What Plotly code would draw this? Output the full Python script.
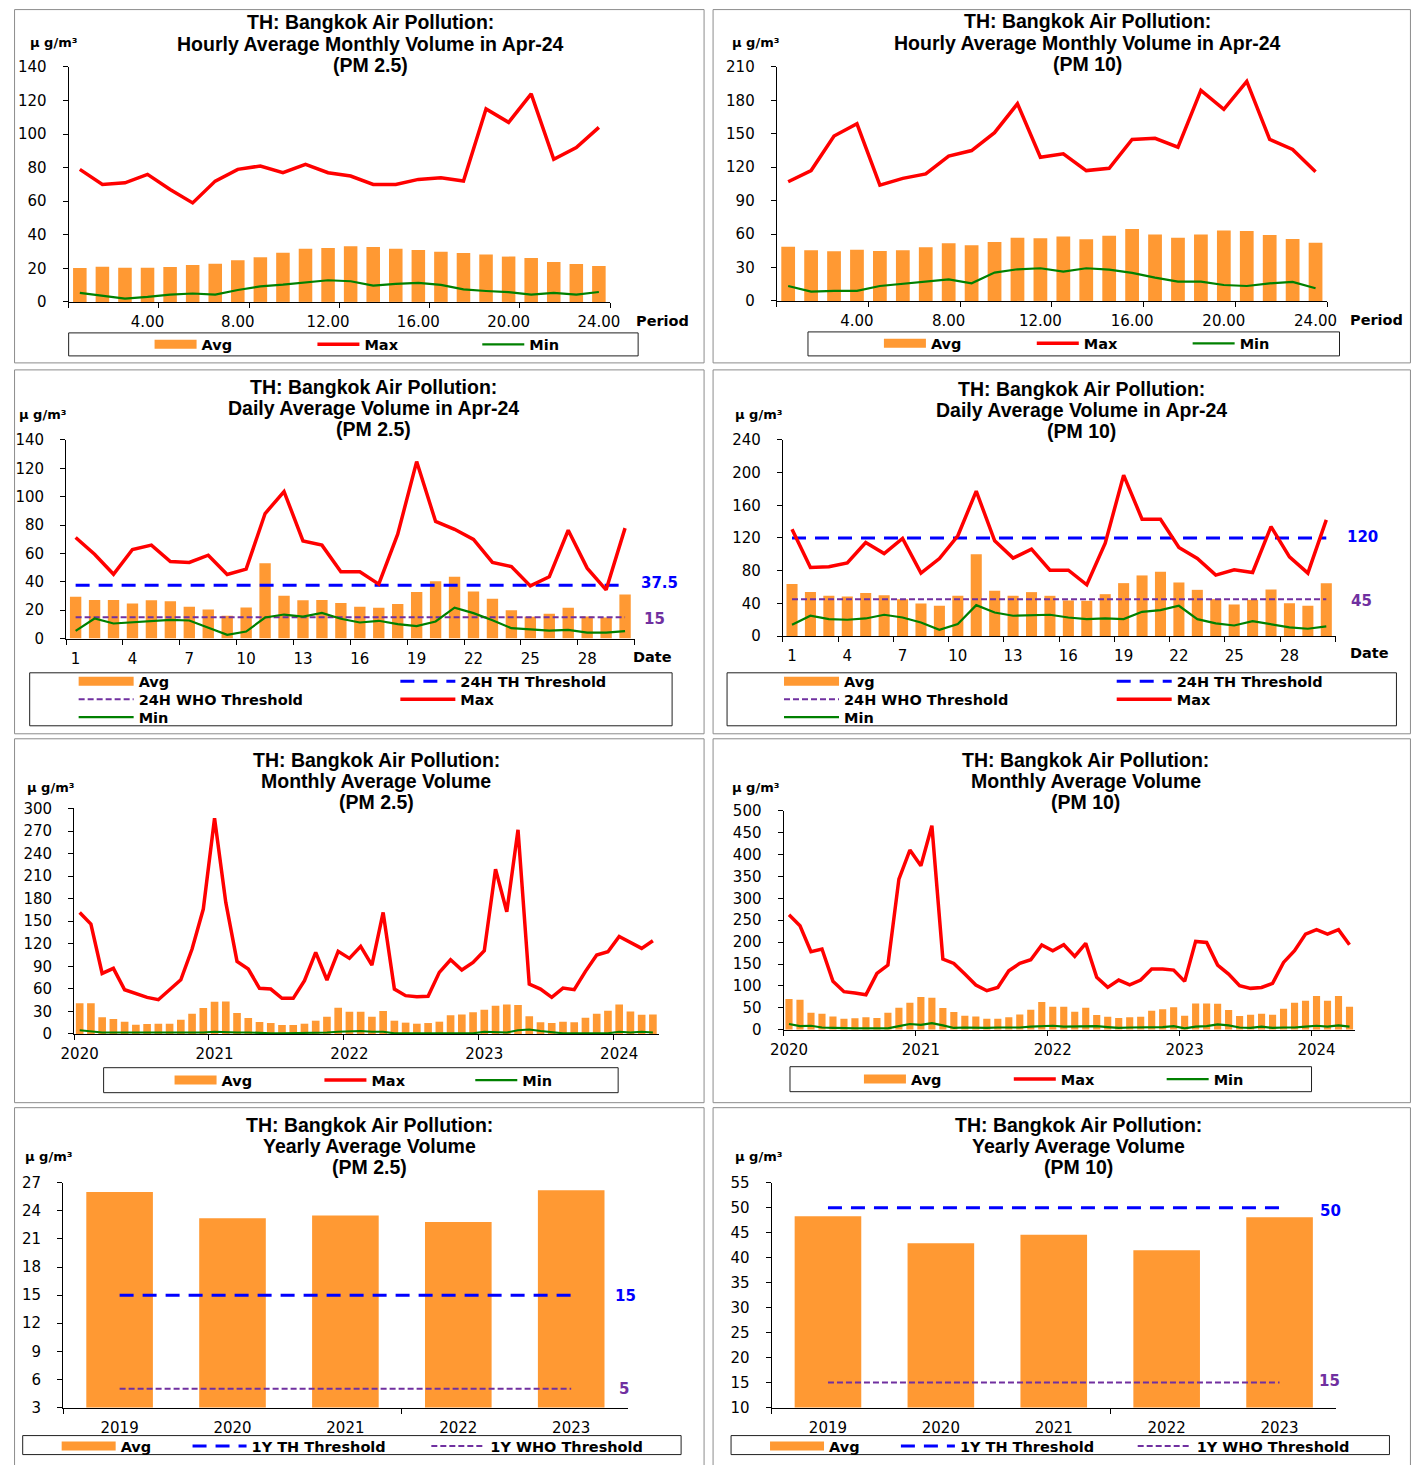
import plotly.graph_objects as go
import pandas as pd

W, H = 1421, 1465
FONT = "Liberation Sans, Arial, Helvetica, sans-serif"
WIDE = "DejaVu Sans, Verdana, sans-serif"
ORANGE = "#FF9933"
RED = "#FF0000"
GREEN = "#008000"
BLUE = "#0000FF"
PURPLE = "#7030A0"

# ------------------------------------------------------------------ data
hours = list(range(1, 25))
hour_tickvals = [4, 8, 12, 16, 20, 24]
hour_ticktext = ["4.00", "8.00", "12.00", "16.00", "20.00", "24.00"]
hour_bounds = [0.5, 4.5, 8.5, 12.5, 16.5, 20.5, 24.5]

pm25_hourly_avg = [20.2, 21.0, 20.4, 20.4, 20.8, 22.0, 22.8, 24.8, 26.6, 29.3, 31.7, 32.1,
                   33.1, 32.7, 31.7, 30.9, 29.9, 29.1, 28.2, 27.0, 26.2, 23.8, 22.6, 21.4]
pm25_hourly_max = [79, 70, 71, 76, 67, 59, 72, 79, 81, 77, 82, 77,
                   75, 70, 70, 73, 74, 72, 115, 107, 124, 85, 92, 104]
pm25_hourly_min = [5.4, 3.6, 2.0, 3.0, 4.4, 5.0, 4.4, 7.1, 9.3, 10.3, 11.5, 12.9,
                   12.3, 9.7, 10.7, 11.3, 10.1, 7.5, 6.5, 5.8, 4.4, 5.4, 4.4, 5.9]

pm10_hourly_avg = [48.7, 45.4, 44.5, 46.0, 44.8, 45.4, 48.1, 51.7, 49.9, 52.9, 56.7, 56.2,
                   57.9, 55.3, 58.5, 64.5, 59.7, 56.7, 59.7, 63.3, 62.7, 59.1, 55.6, 52.3]
pm10_hourly_max = [107, 117, 148, 159, 104, 110, 114, 130, 135, 151, 177, 129,
                   132, 117, 119, 145, 146, 138, 189, 172, 197, 145, 136, 116]
pm10_hourly_min = [13.4, 8.4, 9.0, 9.0, 13.4, 15.2, 17.3, 19.4, 15.8, 25.4, 28.4, 29.3,
                   26.3, 29.3, 28.1, 25.1, 20.9, 17.3, 17.3, 14.3, 13.4, 15.8, 17.0, 11.4]

days = list(range(1, 31))
day_tickvals = [1, 4, 7, 10, 13, 16, 19, 22, 25, 28]
day_ticktext = [str(d) for d in day_tickvals]
day_bounds = [0.5, 3.5, 6.5, 9.5, 12.5, 15.5, 18.5, 21.5, 24.5, 27.5, 30.5]

pm25_daily_avg = [29.4, 27.2, 27.2, 24.7, 27.0, 26.3, 22.3, 20.4, 16.0, 21.8, 53.1, 30.1,
                  27.0, 27.2, 25.1, 22.3, 21.6, 24.4, 32.7, 40.4, 43.5, 33.1, 28.0, 20.0,
                  15.3, 17.4, 21.6, 15.5, 14.8, 31.0]
pm25_daily_max = [71.2, 59.4, 45.3, 62.7, 65.8, 54.3, 53.6, 58.7, 45.1, 48.9, 88.1, 103.6,
                  68.8, 65.8, 47.0, 47.0, 38.3, 73.5, 124.7, 82.5, 77.0, 69.8, 53.6, 50.7,
                  37.1, 43.5, 76.3, 49.6, 34.3, 77.8]
pm25_daily_min = [5.4, 14.1, 10.6, 11.3, 12.0, 13.2, 12.7, 7.5, 2.6, 4.9, 14.8, 16.9,
                  15.5, 18.1, 13.9, 11.3, 12.5, 10.1, 8.7, 12.0, 21.8, 17.9, 12.9, 7.3,
                  6.3, 5.6, 6.1, 4.2, 4.2, 5.2]

pm10_daily_avg = [63.6, 53.8, 49.3, 48.5, 52.6, 50.1, 45.2, 39.9, 37.1, 49.3, 100.2, 55.4,
                  49.3, 53.8, 49.3, 43.6, 43.2, 51.3, 64.8, 74.2, 78.6, 65.6, 56.6, 45.2,
                  38.7, 44.4, 57.0, 40.3, 37.1, 64.8]
pm10_daily_max = [130.8, 83.9, 84.8, 89.6, 114.5, 101.0, 119.4, 77.0, 94.9, 122.7, 177.3, 116.5,
                  95.4, 106.4, 80.7, 80.7, 62.8, 113.7, 196.8, 143.0, 143.0, 108.4, 94.9, 74.6,
                  81.1, 77.8, 134.0, 97.0, 77.0, 142.2]
pm10_daily_min = [13.9, 24.9, 20.8, 20.0, 21.6, 26.1, 22.8, 16.7, 7.7, 14.7, 37.9, 28.9,
                  24.9, 25.7, 26.1, 22.8, 20.8, 21.6, 20.8, 29.7, 31.8, 37.1, 20.8, 15.5,
                  13.0, 18.3, 14.7, 10.6, 9.0, 11.8]

months = pd.date_range("2020-01-01", "2024-04-01", freq="MS").strftime("%b-%Y").tolist()
month_pos = list(range(len(months)))
year_tickpos = [0, 12, 24, 36, 48]
year_ticktext = ["2020", "2021", "2022", "2023", "2024"]
year_bounds = [-0.5, 11.5, 23.5, 35.5, 47.5]

pm25_monthly_avg = [40.8, 40.8, 22.2, 19.9, 16.4, 12.4, 13.3, 13.7, 13.7, 19.0, 27.0, 34.6,
                    43.0, 43.4, 27.9, 21.3, 16.0, 14.6, 12.0, 12.0, 13.7, 17.7, 23.0, 35.0,
                    29.7, 29.7, 23.0, 30.6, 17.7, 15.1, 13.7, 14.6, 16.4, 24.8, 26.1, 28.8,
                    32.3, 37.7, 39.4, 38.5, 23.5, 15.5, 14.6, 16.4, 15.5, 21.7, 27.0, 31.0,
                    39.4, 30.1, 25.7, 26.1]
pm25_monthly_max = [161.7, 146.2, 80.6, 87.3, 58.9, 53.2, 48.7, 45.6, 58.9, 72.2, 113.0, 166.2,
                    287.1, 175.0, 96.6, 86.4, 60.7, 59.8, 47.4, 47.4, 70.9, 108.6, 71.8, 109.9,
                    100.6, 116.5, 91.7, 161.7, 59.8, 51.0, 49.6, 50.1, 82.0, 98.8, 85.1, 95.3,
                    110.8, 219.3, 162.6, 271.6, 66.5, 59.8, 48.7, 61.1, 58.9, 83.3, 105.0, 109.4,
                    129.8, 121.8, 113.9, 124.0]
pm25_monthly_min = [5, 3, 2, 2, 2, 1, 1, 1, 1, 1, 1, 2,
                    3, 2, 2, 2, 1, 1, 1, 1, 1, 2, 2, 3,
                    4, 4, 3, 3, 1, 1, 1, 1, 1, 1, 1, 1,
                    3, 2, 2, 5, 6, 4, 2, 1, 1, 1, 1, 1,
                    3, 2, 3, 2]

pm10_monthly_avg = [70.0, 68.5, 38.8, 36.5, 30.4, 25.1, 25.9, 28.2, 26.6, 38.8, 50.2, 61.6,
                    74.6, 73.1, 49.5, 40.3, 32.0, 30.4, 25.1, 25.1, 28.2, 35.0, 45.7, 63.2,
                    52.5, 52.5, 41.1, 50.2, 33.5, 29.7, 26.6, 28.2, 29.7, 43.4, 46.5, 51.0,
                    32.0, 60.1, 60.1, 59.4, 44.9, 31.2, 34.2, 36.5, 34.2, 47.9, 61.6, 66.2,
                    76.9, 66.2, 76.9, 52.5]
pm10_monthly_max = [262.6, 237.4, 178.1, 184.2, 110.4, 86.8, 83.7, 79.9, 128.6, 147.6, 344.0, 410.2,
                    374.4, 465.8, 161.3, 151.4, 127.1, 102.0, 89.0, 96.6, 134.7, 151.4, 159.8, 193.3,
                    180.4, 194.1, 167.4, 197.1, 119.5, 96.6, 113.4, 102.7, 113.4, 138.5, 138.5, 136.2,
                    110.4, 201.7, 199.4, 147.6, 127.1, 100.5, 94.4, 96.6, 105.8, 153.7, 180.4, 218.4,
                    228.3, 218.4, 228.3, 194.1]
pm10_monthly_min = [13, 8, 9, 5, 4, 3, 3, 3, 3, 3, 8, 13,
                    11, 15, 10, 4, 5, 4, 4, 5, 5, 5, 7, 8,
                    9, 7, 7, 8, 8, 6, 4, 5, 5, 5, 6, 8,
                    3, 7, 8, 12, 10, 5, 4, 7, 4, 5, 5, 7,
                    9, 7, 10, 7]

years = [2019, 2020, 2021, 2022, 2023]
year_ticks = ["2019", "2020", "2021", "2022", "2023"]
pm25_yearly_avg = [26.0, 23.2, 23.5, 22.8, 26.2]
pm10_yearly_avg = [48.3, 42.9, 44.6, 41.5, 48.1]

TH_24H_PM25, WHO_24H_PM25 = 37.5, 15
TH_24H_PM10, WHO_24H_PM10 = 120, 45
TH_1Y_PM25, WHO_1Y_PM25 = 15, 5
TH_1Y_PM10, WHO_1Y_PM10 = 50, 15

# ------------------------------------------------------------------ placement helpers
# positions below are given in screenshot pixels; the page is shown slightly
# inset/scaled, so they are mapped back to figure pixels here.
AX, SX, AY, SY = 13.3, 0.984, 8.0, 0.988


def fx(p):
    return ((p - AX) / SX) / W


def fy(p):
    return 1 - ((p - AY) / SY) / H


def clamp(v):
    return min(max(v, 0.0004), 0.9996)


fig = go.Figure()
annotations = []
shapes = []
legend_layouts = {}


def ax_names(n):
    if n == 1:
        return "xaxis", "yaxis", "x", "y"
    return f"xaxis{n}", f"yaxis{n}", f"x{n}", f"y{n}"


def set_axes(n, left, right, top, bottom, xr, tickvals, ticktext, minor_vals, yr, dtick):
    xk, yk, xa, ya = ax_names(n)
    fig.update_layout(**{
        xk: dict(domain=[fx(left), fx(right)], range=xr, anchor=ya,
                 showline=True, linecolor="black", linewidth=1, showgrid=False,
                 zeroline=False, ticks="", tickmode="array", tickvals=tickvals,
                 ticktext=ticktext, ticklabelstandoff=6,
                 tickfont=dict(family=WIDE, size=15, color="black"),
                 minor=dict(tickmode="array", tickvals=minor_vals, ticks="outside",
                            ticklen=5, tickcolor="black", tickwidth=1, showgrid=False),
                 fixedrange=True),
        yk: dict(domain=[fy(bottom), fy(top)], range=yr, anchor=xa,
                 showline=True, linecolor="black", linewidth=1, showgrid=False,
                 zeroline=False, ticks="outside", ticklen=5, tickcolor="black",
                 tickmode="linear", tick0=yr[0], dtick=dtick, ticklabelstandoff=13,
                 tickfont=dict(family=WIDE, size=15, color="black"),
                 fixedrange=True),
    })


def new_legend(xs, yc, itemwidth):
    idx = len(legend_layouts) + 1
    key = "legend" if idx == 1 else f"legend{idx}"
    legend_layouts[key] = dict(
        x=fx(xs - 6), y=fy(yc - 15.5), xanchor="left", yanchor="top",
        orientation="h", bgcolor="rgba(0,0,0,0)", borderwidth=0,
        itemwidth=itemwidth,
        font=dict(family=WIDE, size=14.5, color="black", weight="bold"))
    return key


def text(x, y, s, size=15, color="black", family=WIDE):
    annotations.append(dict(x=fx(x), y=fy(y), xref="paper", yref="paper", text=s,
                            showarrow=False, xanchor="center", yanchor="middle",
                            font=dict(family=family, size=size, color=color, weight="bold")))


def rect(l, t, r, b, color, width=1, clip_bottom=True):
    y0 = clamp(fy(b)) if clip_bottom else fy(b)
    shapes.append(dict(type="rect", xref="paper", yref="paper",
                       x0=clamp(fx(l)), x1=clamp(fx(r)),
                       y0=y0, y1=clamp(fy(t)), line=dict(color=color, width=width),
                       fillcolor="rgba(0,0,0,0)", layer="below"))


def avg_traces(n, x, y, barw, leg, custom=None):
    _, _, xa, ya = ax_names(n)
    g = f"avg{n}"
    fig.add_trace(go.Bar(x=x, y=y, width=barw, marker=dict(color=ORANGE, line=dict(width=0)),
                         name="Avg", legendgroup=g, showlegend=False, xaxis=xa, yaxis=ya,
                         customdata=custom))
    fig.add_trace(go.Scatter(x=[None], y=[None], mode="lines", name="Avg",
                             line=dict(color=ORANGE, width=9), legendgroup=g,
                             legend=leg, xaxis=xa, yaxis=ya, hoverinfo="skip"))


def line_trace(n, x, y, name, color, width, leg, dash="solid"):
    _, _, xa, ya = ax_names(n)
    fig.add_trace(go.Scatter(x=x, y=y, mode="lines", name=name,
                             line=dict(color=color, width=width, dash=dash),
                             legend=leg, xaxis=xa, yaxis=ya))


def title(cx, ys, lines):
    for yy, s in zip(ys, lines):
        text(cx, yy, s, size=19.5, family=FONT)


# ------------------------------------------------------------------ panel borders
for (l, t, r, b) in [(4, 1, 704, 362), (713, 1, 1412, 362),
                     (4, 369, 704, 733), (713, 369, 1412, 733),
                     (4, 738, 704, 1102), (713, 738, 1412, 1102)]:
    rect(l, t, r, b, "#8C8C8C")
for (l, t, r, b) in [(4, 1107, 704, 1480), (713, 1107, 1412, 1480)]:
    rect(l, t, r, b, "#8C8C8C", clip_bottom=False)

UNIT = "µ g/m³"
TH_DASH = "14px,9px"
WHO_DASH = "6px,3px"

# ------------------------------------------------------------------ panel 1: hourly PM2.5
set_axes(1, 67.9, 610, 66, 301, [0.5, 24.5], hour_tickvals, hour_ticktext, hour_bounds, [0, 140], 20)
title(370, [21.5, 43.5, 64.5], ["TH: Bangkok Air Pollution:", "Hourly Average Monthly Volume in Apr-24", "(PM 2.5)"])
text(53, 42, UNIT, size=13)
text(662, 320, "Period", size=14.5)
rect(68, 332, 638, 355, "#202020")
avg_traces(1, hours, pm25_hourly_avg, 0.6, new_legend(155, 343, 42))
line_trace(1, hours, pm25_hourly_max, "Max", RED, 3.5, new_legend(318, 343, 42))
line_trace(1, hours, pm25_hourly_min, "Min", GREEN, 2.2, new_legend(483, 343, 42))

# ------------------------------------------------------------------ panel 2: hourly PM10
set_axes(2, 776.7, 1327.5, 66, 300, [0.5, 24.5], hour_tickvals, hour_ticktext, hour_bounds, [0, 210], 30)
title(1088, [20.5, 42.5, 63], ["TH: Bangkok Air Pollution:", "Hourly Average Monthly Volume in Apr-24", "(PM 10)"])
text(755, 42, UNIT, size=13)
text(1377, 319, "Period", size=14.5)
rect(808, 331, 1340, 355, "#202020")
avg_traces(2, hours, pm10_hourly_avg, 0.6, new_legend(885, 342, 42))
line_trace(2, hours, pm10_hourly_max, "Max", RED, 3.5, new_legend(1038, 342, 42))
line_trace(2, hours, pm10_hourly_min, "Min", GREEN, 2.2, new_legend(1194, 342, 42))

# ------------------------------------------------------------------ panel 3: daily PM2.5
set_axes(3, 65.5, 634.4, 439, 637.7, [0.5, 30.5], day_tickvals, day_ticktext, day_bounds, [0, 140], 20)
title(373, [386.5, 407, 428], ["TH: Bangkok Air Pollution:", "Daily Average Volume in Apr-24", "(PM 2.5)"])
text(42, 414, UNIT, size=13)
text(652, 656.5, "Date", size=14.5)
text(659, 582, "37.5", size=15, color=BLUE)
text(654, 618, "15", size=15, color=PURPLE)
rect(29, 672, 672, 725, "#202020")
avg_traces(3, days, pm25_daily_avg, 0.6, new_legend(79, 680, 55))
line_trace(3, days, [TH_24H_PM25] * len(days), "24H TH Threshold", BLUE, 3,
           new_legend(401, 680, 55), dash=TH_DASH)
line_trace(3, days, [WHO_24H_PM25] * len(days), "24H WHO Threshold", PURPLE, 2,
           new_legend(79, 698, 55), dash=WHO_DASH)
line_trace(3, days, pm25_daily_max, "Max", RED, 3.5, new_legend(401, 698, 55))
line_trace(3, days, pm25_daily_min, "Min", GREEN, 2.2, new_legend(79, 716, 55))

# ------------------------------------------------------------------ panel 4: daily PM10
set_axes(4, 782.8, 1336, 439, 635.3, [0.5, 30.5], day_tickvals, day_ticktext, day_bounds, [0, 240], 40)
title(1082, [388.5, 409, 430], ["TH: Bangkok Air Pollution:", "Daily Average Volume in Apr-24", "(PM 10)"])
text(758, 414, UNIT, size=13)
text(1370, 652, "Date", size=14.5)
text(1363, 536.5, "120", size=15, color=BLUE)
text(1362, 600.5, "45", size=15, color=PURPLE)
rect(727, 672, 1397, 725, "#202020")
avg_traces(4, days, pm10_daily_avg, 0.6, new_legend(785, 680, 55))
line_trace(4, days, [TH_24H_PM10] * len(days), "24H TH Threshold", BLUE, 3,
           new_legend(1118, 680, 55), dash=TH_DASH)
line_trace(4, days, [WHO_24H_PM10] * len(days), "24H WHO Threshold", PURPLE, 2,
           new_legend(785, 698, 55), dash=WHO_DASH)
line_trace(4, days, pm10_daily_max, "Max", RED, 3.5, new_legend(1118, 698, 55))
line_trace(4, days, pm10_daily_min, "Min", GREEN, 2.2, new_legend(785, 716, 55))

# ------------------------------------------------------------------ panel 5: monthly PM2.5
set_axes(5, 73.4, 658.4, 807.7, 1033.3, [-0.5, 51.5], year_tickpos, year_ticktext, year_bounds, [0, 300], 30)
title(376, [759, 780, 801], ["TH: Bangkok Air Pollution:", "Monthly Average Volume", "(PM 2.5)"])
text(50, 787, UNIT, size=13)
rect(103, 1067, 618, 1092, "#202020")
avg_traces(5, month_pos, pm25_monthly_avg, 0.68, new_legend(175, 1079, 42), custom=months)
line_trace(5, month_pos, pm25_monthly_max, "Max", RED, 3.5, new_legend(325, 1079, 42))
line_trace(5, month_pos, pm25_monthly_min, "Min", GREEN, 2.2, new_legend(476, 1079, 42))

# ------------------------------------------------------------------ panel 6: monthly PM10
set_axes(6, 783.5, 1355.5, 810, 1029, [-0.5, 51.5], year_tickpos, year_ticktext, year_bounds, [0, 500], 50)
title(1086, [759, 780, 801], ["TH: Bangkok Air Pollution:", "Monthly Average Volume", "(PM 10)"])
text(755, 787, UNIT, size=13)
rect(790, 1066, 1312, 1091, "#202020")
avg_traces(6, month_pos, pm10_monthly_avg, 0.65, new_legend(865, 1078, 42), custom=months)
line_trace(6, month_pos, pm10_monthly_max, "Max", RED, 3.5, new_legend(1015, 1078, 42))
line_trace(6, month_pos, pm10_monthly_min, "Min", GREEN, 2.2, new_legend(1168, 1078, 42))

# ------------------------------------------------------------------ panel 7: yearly PM2.5
LEG_Y = 1445
set_axes(7, 62.5, 627.5, 1182, 1407, [2018.5, 2023.5], years, year_ticks, [2018.5, 2021.5], [3, 27], 3)
title(369.6, [1124, 1145, 1166], ["TH: Bangkok Air Pollution:", "Yearly Average Volume", "(PM 2.5)"])
text(48, 1156, UNIT, size=13)
text(625, 1295.5, "15", size=15, color=BLUE)
text(624, 1388.5, "5", size=15, color=PURPLE)
rect(22, 1435, 681, 1454, "#202020")
avg_traces(7, years, pm25_yearly_avg, 0.59, new_legend(62, LEG_Y, 54))
line_trace(7, years, [TH_1Y_PM25] * len(years), "1Y TH Threshold", BLUE, 3,
           new_legend(193, LEG_Y, 54), dash=TH_DASH)
line_trace(7, years, [WHO_1Y_PM25] * len(years), "1Y WHO Threshold", PURPLE, 2,
           new_legend(432, LEG_Y, 54), dash=WHO_DASH)

# ------------------------------------------------------------------ panel 8: yearly PM10
set_axes(8, 771.5, 1336.5, 1182, 1407, [2018.5, 2023.5], years, year_ticks, [2018.5, 2021.5], [10, 55], 5)
title(1078.6, [1124, 1145, 1166], ["TH: Bangkok Air Pollution:", "Yearly Average Volume", "(PM 10)"])
text(758, 1156, UNIT, size=13)
text(1330.5, 1210, "50", size=15, color=BLUE)
text(1330, 1380.5, "15", size=15, color=PURPLE)
rect(731, 1435, 1390, 1454, "#202020")
avg_traces(8, years, pm10_yearly_avg, 0.59, new_legend(771, LEG_Y, 54))
line_trace(8, years, [TH_1Y_PM10] * len(years), "1Y TH Threshold", BLUE, 3,
           new_legend(902, LEG_Y, 54), dash=TH_DASH)
line_trace(8, years, [WHO_1Y_PM10] * len(years), "1Y WHO Threshold", PURPLE, 2,
           new_legend(1139, LEG_Y, 54), dash=WHO_DASH)

# ------------------------------------------------------------------ layout
fig.update_layout(
    width=W, height=H, margin=dict(l=0, r=0, t=0, b=0, pad=0),
    paper_bgcolor="white", plot_bgcolor="white",
    font=dict(family=FONT, size=15, color="black"),
    annotations=annotations, shapes=shapes, showlegend=True,
    hovermode="closest",
    **legend_layouts,
)

# remove the default page margin so the figure fills the window exactly
PAGE_FIX = ("document.body.style.margin='0px';document.body.style.padding='0px';"
            "document.documentElement.style.overflow='hidden';"
            "document.body.style.overflow='hidden';")
fig.write_html("out.html", post_script=PAGE_FIX, config={"displayModeBar": False})
